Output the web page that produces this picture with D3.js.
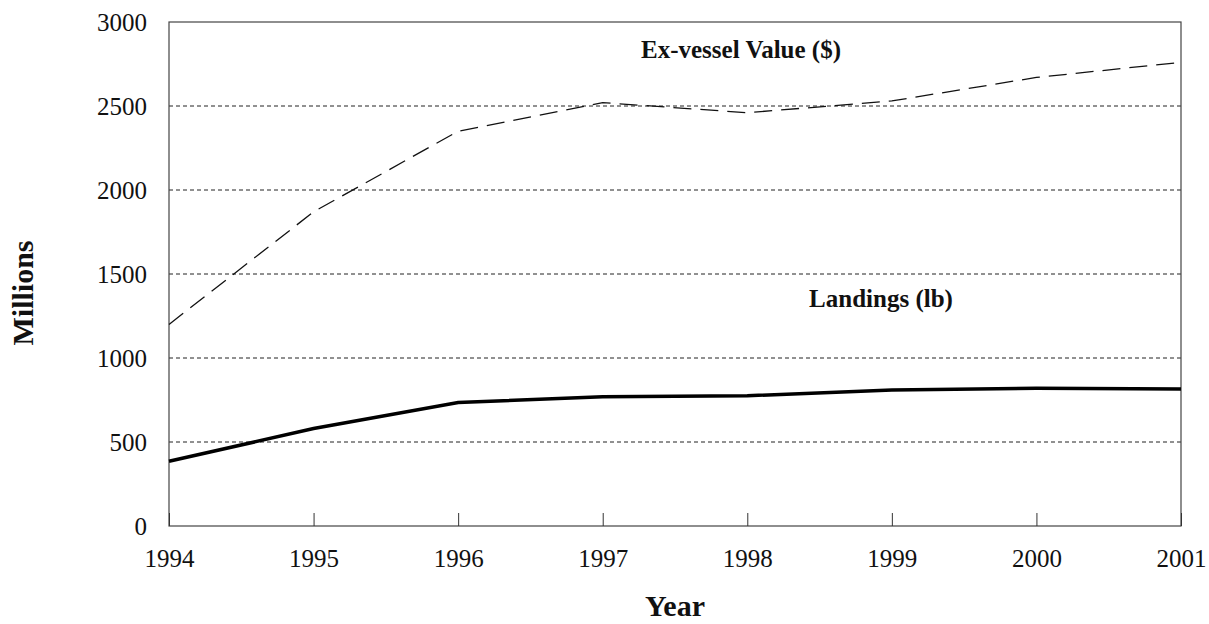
<!DOCTYPE html>
<html>
<head>
<meta charset="utf-8">
<script src="https://cdn.jsdelivr.net/npm/d3@7"></script>
<style>
  body { margin: 0; background: #fff; }
  svg text { font-family: "Liberation Serif", "Times New Roman", serif; fill: #111; }
</style>
</head>
<body>
<svg width="1209" height="624"></svg>
<script>
const years = [1994, 1995, 1996, 1997, 1998, 1999, 2000, 2001];
const exVesselValue = [1200, 1870, 2350, 2520, 2460, 2530, 2670, 2760];
const landings = [385, 580, 735, 770, 775, 810, 820, 815];
const yTicks = [0, 500, 1000, 1500, 2000, 2500, 3000];

const margin = { top: 22, right: 28, bottom: 98, left: 169 };
const width = 1209 - margin.left - margin.right;
const height = 624 - margin.top - margin.bottom;

const svg = d3.select('svg');
const g = svg.append('g').attr('transform', `translate(${margin.left},${margin.top})`);

const x = d3.scaleLinear().domain([1994, 2001]).range([0, width]);
const y = d3.scaleLinear().domain([0, 3000]).range([height, 0]);

// gridlines
g.selectAll('.grid')
      .data(yTicks.filter(d => d > 0 && d < 3000))
      .enter()
      .append('line')
      .attr('x1', 0).attr('x2', width)
      .attr('y1', d => y(d)).attr('y2', d => y(d))
      .attr('stroke', '#222')
      .attr('stroke-width', 1)
      .attr('stroke-dasharray', '4,3');

// frame
g.append('rect')
      .attr('width', width).attr('height', height)
      .attr('fill', 'none')
      .attr('stroke', '#444')
      .attr('stroke-width', 1.2);

// axes
const yAxis = d3.axisLeft(y).tickValues(yTicks).tickFormat(d3.format('d')).tickSize(0).tickPadding(22);
g.append('g').call(yAxis)
      .call(a => a.select('.domain').remove())
      .selectAll('text')
      .style('font-size', '25px');

const xAxis = d3.axisBottom(x).tickValues(years).tickFormat(d3.format('d')).tickSize(-13).tickPadding(23);
g.append('g').attr('transform', `translate(0,${height})`).call(xAxis)
      .call(a => a.select('.domain').remove())
      .call(a => a.selectAll('line').attr('stroke', '#333'))
      .selectAll('text')
      .style('font-size', '25px');

// lines
const line = d3.line().x((d, i) => x(years[i])).y(d => y(d));

g.append('path')
      .datum(exVesselValue)
      .attr('d', line)
      .attr('fill', 'none')
      .attr('stroke', '#111')
      .attr('stroke-width', 1.3)
      .attr('stroke-dasharray', '18,9');

g.append('path')
      .datum(landings)
      .attr('d', line)
      .attr('fill', 'none')
      .attr('stroke', '#000')
      .attr('stroke-width', 3.5);

// labels
svg.append('text')
      .attr('x', 741).attr('y', 58)
      .attr('text-anchor', 'middle')
      .style('font-size', '25px').style('font-weight', 'bold')
      .text('Ex-vessel Value ($)');

svg.append('text')
      .attr('x', 881).attr('y', 307)
      .attr('text-anchor', 'middle')
      .style('font-size', '25px').style('font-weight', 'bold')
      .text('Landings (lb)');

svg.append('text')
      .attr('transform', 'translate(33,293) rotate(-90)')
      .attr('text-anchor', 'middle')
      .style('font-size', '30px').style('font-weight', 'bold')
      .text('Millions');

svg.append('text')
      .attr('x', 675).attr('y', 616)
      .attr('text-anchor', 'middle')
      .style('font-size', '30px').style('font-weight', 'bold')
      .text('Year');
</script>
</body>
</html>
